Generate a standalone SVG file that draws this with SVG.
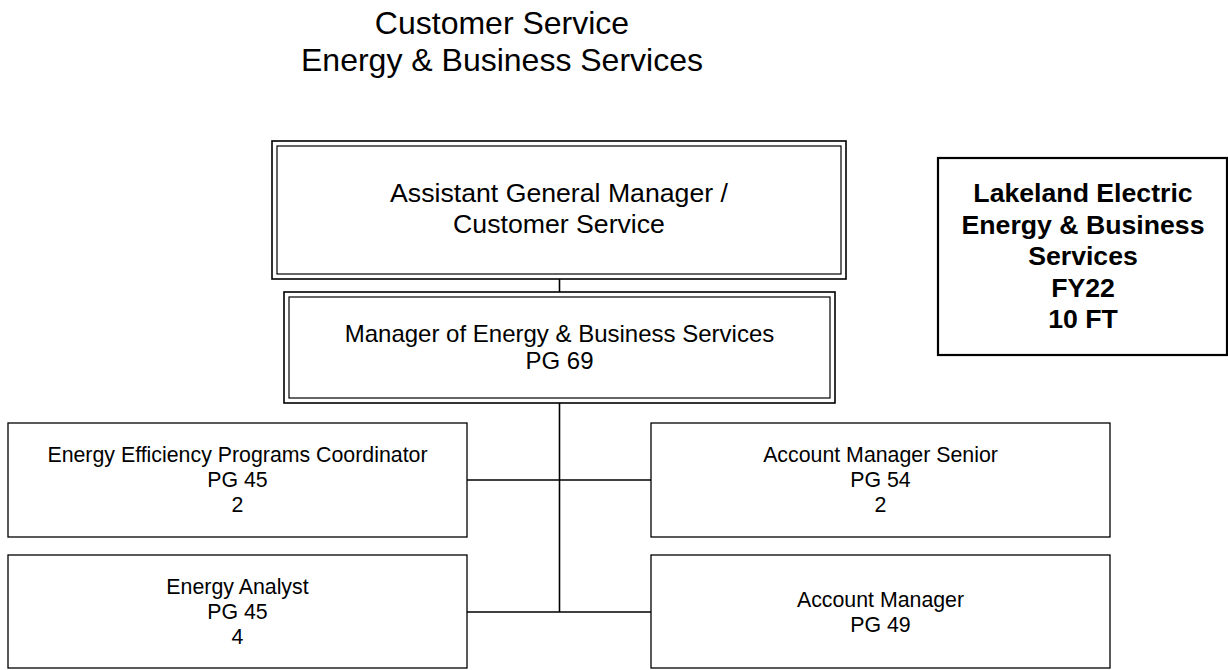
<svg xmlns="http://www.w3.org/2000/svg" width="1228" height="670" viewBox="0 0 1228 670">
<style>
text{font-family:"Liberation Sans",Arial,sans-serif;fill:#000;text-anchor:middle}
.title{font-size:32px}
.t26{font-size:26.67px}
.t24{font-size:24px}
.t21{font-size:21.33px}
.legend{font-size:26.67px;font-weight:bold}
.box{fill:#fff;stroke:#000;stroke-width:1.3}
.outer{fill:#fff;stroke:#000;stroke-width:1.6}
.inner{fill:none;stroke:#000;stroke-width:1.2}
.conn{stroke:#000;stroke-width:1.6;fill:none}
</style>
<rect width="1228" height="670" fill="#fff"/>
<g id="title">
<text class="title" x="502" y="33.5">Customer Service</text>
<text class="title" x="502" y="71">Energy &amp; Business Services</text>
</g>
<g id="connectors">
<line class="conn" x1="559.5" y1="279" x2="559.5" y2="292"/>
<line class="conn" x1="559.5" y1="403" x2="559.5" y2="612"/>
<line class="conn" x1="467" y1="480" x2="651" y2="480"/>
<line class="conn" x1="467" y1="612" x2="651" y2="612"/>
</g>
<g id="agm">
<rect class="outer" x="272" y="141" width="574" height="138"/>
<rect class="inner" x="277" y="146" width="564" height="128"/>
<text class="t26" x="559" y="202">Assistant General Manager /</text>
<text class="t26" x="559" y="233">Customer Service</text>
</g>
<g id="manager">
<rect class="outer" x="284" y="292" width="551" height="111"/>
<rect class="inner" x="289" y="297" width="541" height="101"/>
<text class="t24" x="559.5" y="341.7">Manager of Energy &amp; Business Services</text>
<text class="t24" x="559.5" y="369.3">PG 69</text>
</g>
<g id="legend">
<rect x="938" y="158" width="289" height="197" fill="#fff" stroke="#000" stroke-width="2.2"/>
<text class="legend" x="1083" y="202">Lakeland Electric</text>
<text class="legend" x="1083" y="233.5">Energy &amp; Business</text>
<text class="legend" x="1083" y="265">Services</text>
<text class="legend" x="1083" y="296.5">FY22</text>
<text class="legend" x="1083" y="328">10 FT</text>
</g>
<g id="eepc">
<rect class="box" x="8" y="423" width="459" height="114"/>
<text class="t21" x="237.5" y="462">Energy Efficiency Programs Coordinator</text>
<text class="t21" x="237.5" y="487">PG 45</text>
<text class="t21" x="237.5" y="512">2</text>
</g>
<g id="analyst">
<rect class="box" x="8" y="555" width="459" height="113"/>
<text class="t21" x="237.5" y="594">Energy Analyst</text>
<text class="t21" x="237.5" y="619">PG 45</text>
<text class="t21" x="237.5" y="644">4</text>
</g>
<g id="ams">
<rect class="box" x="651" y="423" width="459" height="114"/>
<text class="t21" x="880.5" y="462">Account Manager Senior</text>
<text class="t21" x="880.5" y="487">PG 54</text>
<text class="t21" x="880.5" y="512">2</text>
</g>
<g id="am">
<rect class="box" x="651" y="555" width="459" height="113"/>
<text class="t21" x="880.5" y="606.7">Account Manager</text>
<text class="t21" x="880.5" y="631.7">PG 49</text>
</g>
</svg>
